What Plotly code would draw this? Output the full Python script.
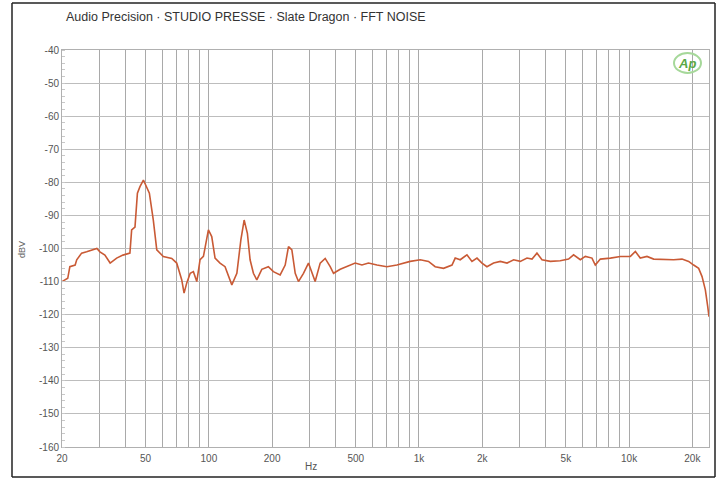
import plotly.graph_objects as go

# Frequency (Hz) and level (dBV)
freq_hz = [20, 21.3, 21.8, 23.1, 23.5, 24.8, 26.2, 29.3, 30.3, 32.0, 33.9, 36.4, 39.0, 42.1,
           42.9, 44.5, 45.7, 47.0, 48.8, 50.6, 52.1, 54.4, 56.5, 60.7, 66.6, 70.3, 74.3, 76.2,
           78.5, 81.5, 84.4, 87.6, 90.8, 94.2, 99.5, 103.2, 107.0, 113.0, 119.4, 128.6, 135.9,
           142.0, 147.2, 152.5, 157.1, 162.9, 169.1, 178.6, 191.9, 202.8, 218.4, 230.8, 239.3,
           248.3, 257.6, 266.9, 282.0, 297.9, 309.1, 320.5, 338.7, 357.7, 377.9, 392.0, 421.8,
           461.7, 497, 535, 575, 631, 703, 785, 908, 1014, 1110, 1194, 1309, 1436, 1487, 1571,
           1691, 1787, 1888, 1994, 2105, 2265, 2438, 2624, 2821, 3035, 3266, 3451, 3643, 3849,
           4217, 4700, 5151, 5443, 5858, 6190, 6657, 6904, 7295, 8147, 9087, 10140, 10710,
           11300, 12160, 13090, 14600, 16290, 17860, 19200, 20280, 21430, 22240, 23060, 23660,
           24000]
level_dbv = [-110, -109, -105.5, -105, -103.4, -101.4, -101, -100, -101, -102, -104.4, -102.9,
             -102, -101.4, -94.4, -93.5, -83.3, -81.3, -79.3, -81.3, -83.3, -91.4, -100.4,
             -102.4, -103, -104.4, -109.5, -113.5, -110.4, -107.5, -107, -110, -103.4, -102.4,
             -94.4, -96.4, -102.9, -104.4, -105.5, -111, -107.5, -97.4, -91.4, -95.4, -103.4,
             -107.5, -109.5, -106.3, -105.5, -107, -108, -105, -99.4, -100.4, -107.5, -110,
             -107.5, -104.4, -107, -110, -104.4, -103, -105.5, -107.5, -106.3, -105.3, -104.4,
             -105, -104.4, -105, -105.5, -105, -103.9, -103.4, -103.9, -105.5, -106, -105,
             -102.9, -103.4, -101.9, -103.9, -102.9, -104.4, -105.5, -104.4, -103.9, -104.4,
             -103.4, -103.9, -102.9, -103.2, -101.4, -103.4, -103.9, -103.7, -103.2, -101.9,
             -103.4, -102.4, -102.9, -105, -103.2, -102.9, -102.4, -102.4, -100.9, -102.9,
             -102.4, -103.2, -103.4, -103.4, -103.2, -103.9, -105, -106, -108.5, -112.5,
             -117.5, -120.6]

grid_freqs = [20, 30, 40, 50, 60, 70, 80, 90, 100, 200, 300, 400, 500, 600, 700, 800, 900,
              1000, 2000, 3000, 4000, 5000, 6000, 7000, 8000, 9000, 10000, 20000]
grid_labels = ["20", "", "", "50", "", "", "", "", "100", "200", "", "", "500", "", "", "",
               "", "1k", "2k", "", "", "5k", "", "", "", "", "10k", "20k"]
y_ticks = [-40, -50, -60, -70, -80, -90, -100, -110, -120, -130, -140, -150, -160]
y_labels = [str(v) for v in y_ticks]

title_text = "Audio Precision · STUDIO PRESSE · Slate Dragon · FFT NOISE"

W, H = 724, 479
L, R, T, B = 62, 15, 50, 32
pw, ph = W - L - R, H - T - B

def px(x):
    return (x - L) / pw

def py(y):
    return (H - B - y) / ph

tick_font = dict(family="Liberation Sans Narrow, Arial Narrow, Liberation Sans, Arial", size=10, color="#555555")

fig = go.Figure()
fig.add_trace(go.Scatter(x=freq_hz, y=level_dbv, mode="lines",
                         line=dict(color="#c95a35", width=1.6), showlegend=False))

fig.update_layout(
    width=W, height=H,
    margin=dict(l=L, r=R, t=T, b=B),
    paper_bgcolor="white", plot_bgcolor="white",
    xaxis=dict(type="log", range=[1.30103, 4.380211], tickvals=grid_freqs, ticktext=grid_labels,
               showgrid=True, gridcolor="#a9a9a9", gridwidth=1, zeroline=False,
               showline=True, linecolor="#b0b0b0", mirror=True, ticks="",
               tickfont=tick_font, ticklabelstandoff=2),
    yaxis=dict(range=[-160, -40], tickvals=y_ticks, ticktext=y_labels,
               showgrid=True, gridcolor="#bdbdbd", gridwidth=1, zeroline=False,
               showline=True, linecolor="#b0b0b0", mirror=True, ticks="",
               minor=dict(dtick=2, ticks="inside", ticklen=3, tickcolor="#c8c8c8", showgrid=False),
               tickfont=tick_font),
    annotations=[
        dict(text=title_text, xref="paper", yref="paper", x=px(64), y=py(17),
             xanchor="left", yanchor="middle", showarrow=False,
             font=dict(family="Liberation Sans, Arial", size=12.5, color="#333333")),
        dict(text="dBV", xref="paper", yref="paper", x=px(22), y=py(250),
             xanchor="center", yanchor="middle", textangle=-90, showarrow=False,
             font=dict(family="Liberation Sans Narrow, Liberation Sans, Arial", size=9, color="#666666")),
        dict(text="Hz", xref="paper", yref="paper", x=px(311), y=py(466),
             xanchor="center", yanchor="middle", showarrow=False,
             font=dict(family="Liberation Sans Narrow, Liberation Sans, Arial", size=10, color="#555555")),
        dict(text="<i><b>Ap</b></i>", xref="paper", yref="paper", x=px(687), y=py(63),
             xanchor="center", yanchor="middle", showarrow=False,
             font=dict(family="Liberation Sans, Arial", size=13, color="#5aa845")),
    ],
    shapes=[
        dict(type="line", xref="paper", yref="paper", x0=px(12), x1=px(12), y0=py(477), y1=py(3),
             line=dict(color="#222222", width=1.5), layer="above"),
        dict(type="line", xref="paper", yref="paper", x0=px(715), x1=px(715), y0=py(477), y1=py(3),
             line=dict(color="#222222", width=1.5), layer="above"),
        dict(type="line", xref="paper", yref="paper", x0=px(12), x1=px(715), y0=py(3), y1=py(3),
             line=dict(color="#222222", width=1.5), layer="above"),
        dict(type="line", xref="paper", yref="paper", x0=px(12), x1=px(715), y0=py(477), y1=py(477),
             line=dict(color="#222222", width=1.5), layer="above"),
        dict(type="circle", xref="paper", yref="paper", x0=px(674), x1=px(701), y0=py(73), y1=py(53),
             line=dict(color="#a6d89a", width=2), fillcolor="rgba(0,0,0,0)"),
    ],
)

fig.write_html("out.html", config={"displayModeBar": False},
               post_script="document.body.style.margin='0';document.body.style.padding='0';")
